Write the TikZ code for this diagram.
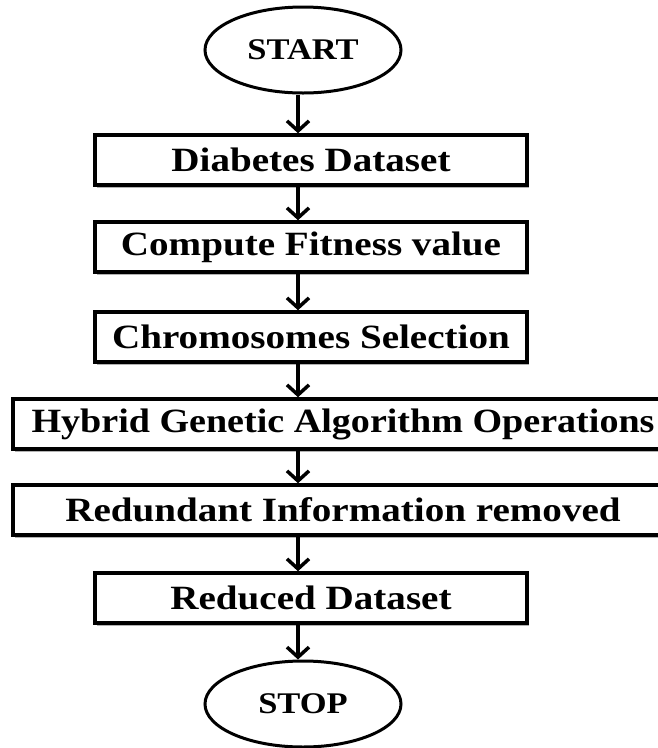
\documentclass[tikz,border=0pt]{standalone}
\usepackage{fontspec}
\setmainfont{Liberation Serif}
\usetikzlibrary{positioning,arrows.meta,shapes.geometric,shadows}

% the letters in the figure are drawn a little wide
\newcommand{\widetext}[2][1.15]{\scalebox{#1}[1]{#2}}

\begin{document}
\begin{tikzpicture}[
  x=1pt, y=-1pt,
  every node/.style={font=\bfseries\fontsize{34}{40}\selectfont},
  terminal/.style={draw,ellipse,line width=3pt,minimum width=196pt,minimum height=86pt,inner sep=0pt,
    font=\bfseries\fontsize{30}{36}\selectfont},
  procbox/.style={draw,rectangle,line width=3.5pt,fill=white,minimum height=50pt,inner sep=0pt,
    drop shadow={shadow xshift=1.5pt,shadow yshift=-2.5pt,fill=gray!60,opacity=1}},
  midbox/.style={procbox,minimum width=432pt},
  widebox/.style={procbox,minimum width=660pt},
  flow/.style={line width=3.5pt,-{Straight Barb[length=10pt,width=22pt,line width=3.5pt]}}
]
  \useasboundingbox (0,0) rectangle (658,748);

  \node[terminal] (start) at (303,50) {\widetext{START}};
  \node[midbox] (data) at (311,160) {\widetext{Diabetes Dataset}};
  \node[midbox] (fit) at (311,247) {\widetext{Compute Fitness value}};
  \node[midbox] (sel) at (311,337) {\widetext{Chromosomes Selection}};
  \node[widebox] (hga) at (343,424) {\widetext[1.12]{Hybrid Genetic Algorithm Operations}};
  \node[widebox] (red) at (343,510) {\widetext{Redundant Information removed}};
  \node[midbox] (rds) at (311,598) {\widetext{Reduced Dataset}};
  \node[terminal] (stop) at (303,704) {\widetext{STOP}};

  \coordinate (axis) at (298,0);
  \draw[flow] (axis |- start.south) -- (axis |- data.north);
  \draw[flow] (axis |- data.south) -- (axis |- fit.north);
  \draw[flow] (axis |- fit.south) -- (axis |- sel.north);
  \draw[flow] (axis |- sel.south) -- (axis |- hga.north);
  \draw[flow] (axis |- hga.south) -- (axis |- red.north);
  \draw[flow] (axis |- red.south) -- (axis |- rds.north);
  \draw[flow] (axis |- rds.south) -- (axis |- stop.north);
\end{tikzpicture}
\end{document}
